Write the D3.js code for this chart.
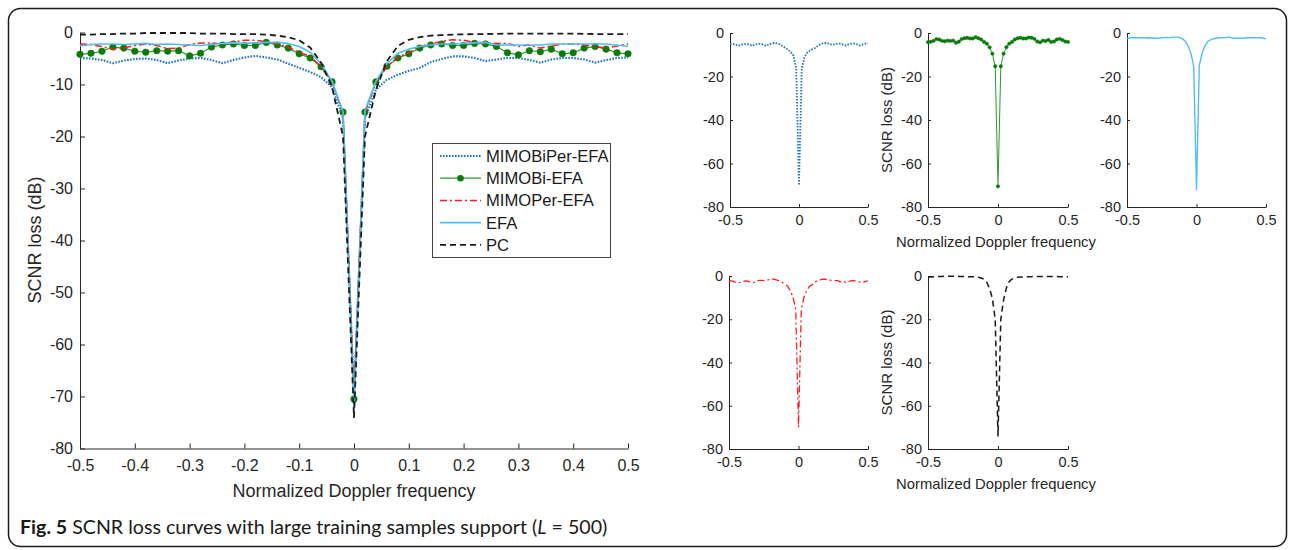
<!DOCTYPE html>
<html>
<head>
<meta charset="utf-8">
<script src="https://cdn.jsdelivr.net/npm/d3@7"></script>
<style>
  html, body { margin: 0; padding: 0; background: #fff; }
  svg { display: block; }
</style>
</head>
<body>
<svg id="chart" width="1295" height="550"></svg>
<script>
// ---------- DATA ----------
const freq = [-0.5,-0.48,-0.46,-0.44,-0.42,-0.4,-0.38,-0.36,-0.34,-0.32,-0.3,-0.28,-0.26,-0.24,-0.22,-0.2,-0.18,-0.16,-0.14,-0.12,-0.1,-0.08,-0.06,-0.04,-0.02,
  0,
  0.02,0.04,0.06,0.08,0.1,0.12,0.14,0.16,0.18,0.2,0.22,0.24,0.26,0.28,0.3,0.32,0.34,0.36,0.38,0.4,0.42,0.44,0.46,0.48,0.5];

const mimoBiPerEFA = [-4.9,-5.0,-5.3,-5.9,-5.4,-5.1,-5.0,-5.3,-5.9,-5.4,-5.0,-4.9,-5.3,-5.9,-5.3,-4.8,-4.5,-4.8,-5.2,-6.0,-6.8,-7.6,-8.6,-10.5,-16.5,
  -70,
  -16.5,-11.0,-9.1,-8.1,-7.4,-6.8,-5.7,-5.1,-4.6,-4.6,-4.9,-5.5,-5.2,-4.9,-4.9,-5.3,-5.8,-5.2,-4.9,-4.9,-5.2,-5.8,-5.3,-4.9,-4.8];

const mimoBiEFA = [-4.2,-4.0,-3.6,-2.8,-3.0,-3.6,-3.8,-3.5,-3.6,-3.5,-4.5,-4.0,-2.8,-2.4,-2.2,-2.5,-2.5,-1.9,-2.4,-3.0,-4.1,-4.9,-6.6,-9.5,-15.3,
  -70.5,
  -15.3,-9.5,-6.5,-4.9,-4.1,-3.0,-2.4,-2.2,-2.5,-2.5,-2.1,-2.2,-2.7,-3.9,-4.3,-3.5,-3.7,-3.2,-4.1,-3.9,-3.0,-2.7,-3.2,-3.9,-4.1];

const mimoPerEFA = [-2.2,-2.3,-2.7,-3.2,-3.0,-2.5,-2.2,-2.5,-3.1,-3.0,-2.3,-2.0,-2.0,-2.2,-1.8,-1.5,-1.5,-1.8,-2.2,-2.8,-3.8,-4.6,-6.6,-9.6,-15.5,
  -70,
  -15.5,-9.6,-6.6,-4.7,-3.9,-2.7,-2.2,-1.7,-1.4,-1.5,-1.9,-2.0,-2.1,-2.1,-2.7,-2.4,-3.0,-2.6,-2.2,-2.2,-2.4,-2.7,-3.0,-2.6,-2.2];

const efa = [-2.6,-2.3,-2.2,-2.2,-2.3,-2.2,-2.1,-2.3,-2.2,-2.3,-2.4,-2.5,-2.3,-2.1,-2.0,-2.1,-2.0,-1.9,-1.9,-2.1,-2.7,-3.8,-6.0,-9.4,-15.3,
  -72,
  -15.0,-9.4,-6.0,-4.0,-3.2,-2.7,-2.4,-2.2,-2.2,-2.1,-2.0,-1.9,-2.4,-2.4,-2.4,-2.4,-2.4,-2.2,-2.2,-2.2,-2.2,-2.2,-2.2,-2.4,-2.7];

const pc = [-0.4,-0.4,-0.3,-0.3,-0.2,-0.2,-0.1,-0.1,-0.1,-0.1,-0.1,-0.2,-0.2,-0.2,-0.3,-0.3,-0.3,-0.4,-0.6,-0.9,-1.5,-2.9,-5.8,-10.5,-20,
  -74,
  -20,-11,-5.5,-2.6,-1.4,-0.9,-0.6,-0.5,-0.4,-0.35,-0.3,-0.3,-0.25,-0.2,-0.2,-0.2,-0.2,-0.2,-0.2,-0.2,-0.25,-0.3,-0.3,-0.3,-0.3];

const seriesNames = ["MIMOBiPer-EFA", "MIMOBi-EFA", "MIMOPer-EFA", "EFA", "PC"];
const mainXTicks = [-0.5,-0.4,-0.3,-0.2,-0.1,0,0.1,0.2,0.3,0.4,0.5];
const mainYTicks = [0,-10,-20,-30,-40,-50,-60,-70,-80];
const smallXTicks = [-0.5,0,0.5];
const smallYTicks = [0,-20,-40,-60,-80];
const xLabel = "Normalized Doppler frequency";
const yLabel = "SCNR loss (dB)";

// ---------- STYLES ----------
const styles = [
  {values: mimoBiPerEFA, color: "#1c74cc", width: 2.1, dash: "1.6,1.4", marker: false},
  {values: mimoBiEFA, color: "#2f9a2f", width: 1.2, dash: null, marker: true, markerColor: "#0b7a0b"},
  {values: mimoPerEFA, color: "#ff1a1a", width: 1.5, dash: "7,3,2,3", marker: false},
  {values: efa, color: "#4dbeee", width: 1.6, dash: null, marker: false},
  {values: pc, color: "#1a1a1a", width: 1.8, dash: "6,4", marker: false}
];

const FONT = "'Liberation Sans', Arial, sans-serif";
const AXIS = "#262626";
const svg = d3.select("#chart");

// frame
svg.append("rect").attr("x", 8.5).attr("y", 8.5).attr("width", 1278).attr("height", 538)
  .attr("rx", 12).attr("fill", "#fff").attr("stroke", "#1a1a1a").attr("stroke-width", 1.5);

const fmt = d => d === 0 ? "0" : String(+d.toFixed(1));

function drawAxes(g, x, y, xt, yt, fs, tickLen, padX, padY) {
  const xa = d3.axisBottom(x).tickValues(xt).tickFormat(fmt).tickSizeInner(-tickLen).tickSizeOuter(0).tickPadding(padX);
  const ya = d3.axisLeft(y).tickValues(yt).tickFormat(fmt).tickSizeInner(-tickLen).tickSizeOuter(0).tickPadding(padY);
  const gx = g.append("g").attr("transform", `translate(0,${y.range()[0]})`).call(xa);
  const gy = g.append("g").attr("transform", `translate(${x.range()[0]},0)`).call(ya);
  [gx, gy].forEach(a => {
    a.select(".domain").attr("stroke", AXIS).attr("stroke-width", 1);
    a.selectAll(".tick line").attr("stroke", AXIS).attr("stroke-width", 1);
    a.selectAll(".tick text").attr("fill", AXIS).style("font-family", FONT).style("font-size", fs + "px");
  });
}

function drawSeries(g, x, y, s, markerR) {
  const line = d3.line().x((d, i) => x(freq[i])).y(d => y(d));
  const p = g.append("path").datum(s.values).attr("d", line)
    .attr("fill", "none").attr("stroke", s.color).attr("stroke-width", s.width)
    .attr("stroke-linejoin", "round");
  if (s.dash) p.attr("stroke-dasharray", s.dash);
  if (s.marker) {
    g.selectAll(null).data(s.values).enter().append("circle")
      .attr("cx", (d, i) => x(freq[i])).attr("cy", d => y(d)).attr("r", markerR)
      .attr("fill", s.markerColor).attr("stroke", s.markerColor).attr("stroke-width", 0.5);
  }
}

// ---------- MAIN CHART ----------
{
  const x = d3.scaleLinear().domain([-0.5, 0.5]).range([80, 628]);
  const y = d3.scaleLinear().domain([-80, 0]).range([448.5, 32.5]);
  const g = svg.append("g");
  drawAxes(g, x, y, mainXTicks, mainYTicks, 16, 5, 11, 7);
  styles.forEach(s => drawSeries(g, x, y, s, 3.3));

  g.append("text").attr("x", 354).attr("y", 497).attr("text-anchor", "middle")
    .style("font-family", FONT).style("font-size", "18px").attr("fill", AXIS).text(xLabel);
  g.append("text").attr("transform", "translate(41,240) rotate(-90)").attr("text-anchor", "middle")
    .style("font-family", FONT).style("font-size", "18px").attr("fill", AXIS).text(yLabel);

  // legend
  const lg = g.append("g");
  lg.append("rect").attr("x", 432.5).attr("y", 143.5).attr("width", 178).attr("height", 114)
    .attr("fill", "#fff").attr("stroke", "#444").attr("stroke-width", 1);
  seriesNames.forEach((name, i) => {
    const s = styles[i];
    const yy = 156 + i * 22.2;
    const l = lg.append("line").attr("x1", 440).attr("x2", 481).attr("y1", yy).attr("y2", yy)
      .attr("stroke", s.color).attr("stroke-width", s.width);
    if (s.dash) l.attr("stroke-dasharray", s.dash);
    if (s.marker) lg.append("circle").attr("cx", 460.5).attr("cy", yy).attr("r", 3.3).attr("fill", s.markerColor);
    lg.append("text").attr("x", 486).attr("y", yy).attr("dy", "0.36em")
      .style("font-family", FONT).style("font-size", "16.6px").attr("fill", "#1a1a1a").text(name);
  });
}

// ---------- SMALL MULTIPLES ----------
const panels = [
  {s: 0, x0: 730, x1: 868, y0: 33, y1: 207, xl: false, yl: false},
  {s: 1, x0: 928, x1: 1068, y0: 33, y1: 207, xl: true, yl: true},
  {s: 3, x0: 1127, x1: 1266, y0: 33, y1: 207, xl: false, yl: false},
  {s: 2, x0: 729, x1: 868, y0: 276, y1: 449, xl: false, yl: false},
  {s: 4, x0: 928, x1: 1068, y0: 276, y1: 449, xl: true, yl: true}
];
panels.forEach(p => {
  const x = d3.scaleLinear().domain([-0.5, 0.5]).range([p.x0, p.x1]);
  const y = d3.scaleLinear().domain([-80, 0]).range([p.y1, p.y0]);
  const g = svg.append("g");
  drawAxes(g, x, y, smallXTicks, smallYTicks, 14.5, 3, 8, 6);
  const st = Object.assign({}, styles[p.s]);
  st.width = st.width * 0.85;
  drawSeries(g, x, y, st, 1.7);
  if (p.xl) g.append("text").attr("x", (p.x0 + p.x1) / 2 - 2).attr("y", p.y1 + 40).attr("text-anchor", "middle")
    .style("font-family", FONT).style("font-size", "14.8px").attr("fill", AXIS).text(xLabel);
  if (p.yl) g.append("text").attr("transform", `translate(${p.x0 - 36},${(p.y0 + p.y1) / 2}) rotate(-90)`)
    .attr("text-anchor", "middle").style("font-family", FONT).style("font-size", "15px").attr("fill", AXIS).text(yLabel);
});

// ---------- CAPTION ----------
const cap = svg.append("text").attr("x", 20).attr("y", 534)
  .style("font-family", "Lato, 'Open Sans', sans-serif").style("font-size", "19.6px").attr("fill", "#1a1a1a");
cap.append("tspan").attr("font-weight", "bold").text("Fig. 5");
cap.append("tspan").text(" SCNR loss curves with large training samples support (");
cap.append("tspan").attr("font-style", "italic").text("L");
cap.append("tspan").text(" = 500)");
</script>
</body>
</html>
